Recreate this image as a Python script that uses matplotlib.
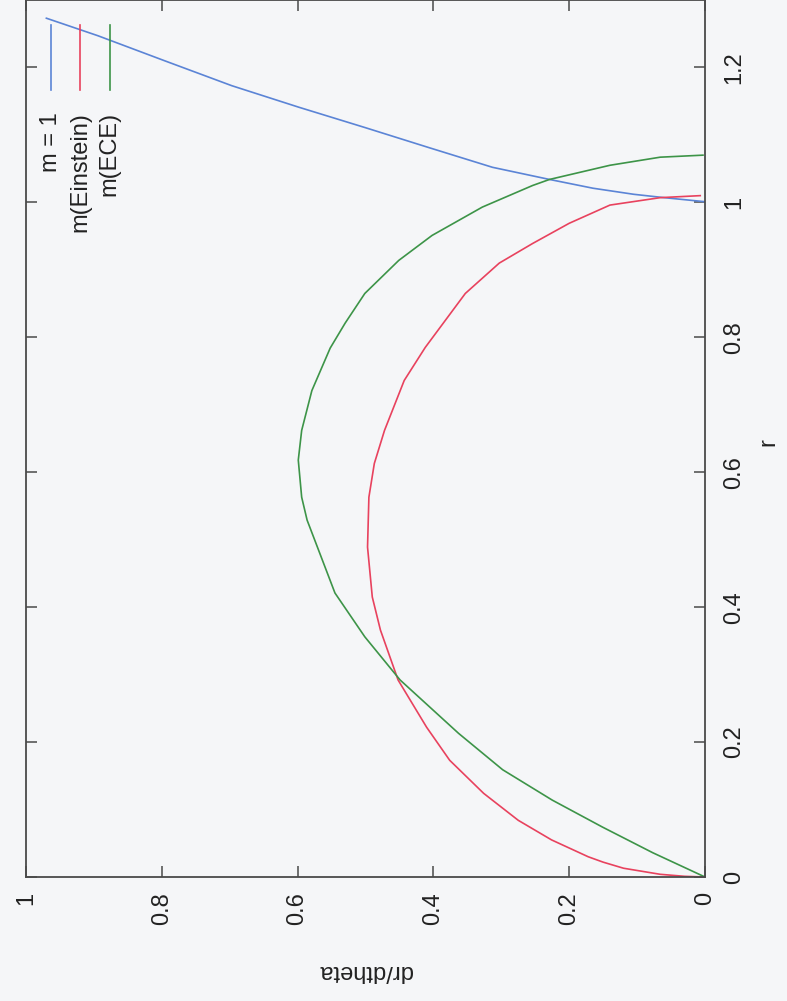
import matplotlib
matplotlib.use('Agg')
from matplotlib import pyplot as plt

# values (r along the page height, dr/dtheta across)
r_m1 = [1.001, 1.004, 1.007, 1.012, 1.021, 1.034, 1.052, 1.081, 1.111, 1.141, 1.173, 1.210, 1.247, 1.273]
m_m1 = [0.0, 0.030, 0.060, 0.105, 0.165, 0.229, 0.313, 0.406, 0.501, 0.598, 0.697, 0.796, 0.894, 0.970]

r_ein = [0.0, 0.001, 0.004, 0.013, 0.022, 0.030, 0.055, 0.084, 0.124, 0.173, 0.222, 0.292,
         0.366, 0.415, 0.489, 0.563, 0.613, 0.662, 0.736, 0.785, 0.865, 0.910, 0.939, 0.969,
         0.996, 1.007, 1.010]
m_ein = [0.0, 0.030, 0.066, 0.120, 0.150, 0.172, 0.226, 0.275, 0.326, 0.376, 0.410, 0.452,
         0.478, 0.490, 0.497, 0.495, 0.487, 0.472, 0.443, 0.412, 0.353, 0.303, 0.254, 0.200,
         0.140, 0.066, 0.007]

r_ece = [0.0, 0.036, 0.074, 0.114, 0.159, 0.213, 0.292, 0.356, 0.421, 0.529, 0.563, 0.618,
         0.662, 0.721, 0.784, 0.821, 0.865, 0.914, 0.951, 0.993, 1.025, 1.034, 1.055, 1.067, 1.070]
m_ece = [0.0, 0.077, 0.151, 0.225, 0.298, 0.363, 0.449, 0.501, 0.545, 0.586, 0.594, 0.599,
         0.594, 0.579, 0.552, 0.530, 0.501, 0.451, 0.402, 0.328, 0.254, 0.229, 0.140, 0.066, 0.003]

labels = ['m = 1', 'm(Einstein)', 'm(ECE)']
colors = ['#5b84d6', '#e8425e', '#3d9448']

r_ticks = [0, 0.2, 0.4, 0.6, 0.8, 1, 1.2]
m_ticks = [0, 0.2, 0.4, 0.6, 0.8, 1]

plt.rcParams['font.family'] = ['Liberation Sans', 'DejaVu Sans']
bg = '#f5f6f8'
frame = '#4a4a4a'
txt = '#222222'

fig = plt.figure(figsize=(7.87, 10.01), dpi=100, facecolor=bg)
ax = fig.add_axes([26 / 787, 1 - 877 / 1001, 679 / 787, 877 / 1001], facecolor=bg)

ax.plot(m_m1, r_m1, color=colors[0], lw=1.2)
ax.plot(m_ein, r_ein, color=colors[1], lw=1.2)
ax.plot(m_ece, r_ece, color=colors[2], lw=1.2)

ax.set_xlim(1, 0)
ax.set_ylim(0, 1.3)

ax.set_xticks(m_ticks)
ax.set_xticklabels([f'{v:g}' for v in m_ticks], rotation=90, fontsize=17)
ax.set_yticks(r_ticks)
ax.set_yticklabels([f'{v:g}' for v in r_ticks], rotation=90, fontsize=17, va='center')
ax.yaxis.tick_right()
ax.tick_params(axis='both', direction='in', length=8, width=1.1, color=frame,
               top=True, left=True, labelcolor=txt)
ax.tick_params(axis='x', pad=11)
ax.tick_params(axis='y', pad=13)
for s in ax.spines.values():
    s.set_color(frame)
    s.set_linewidth(1.3)

ax.set_xlabel('dr/dtheta', rotation=180, fontsize=17, color=txt, va='center')
ax.xaxis.set_label_coords(0.5, -0.107)
ax.yaxis.set_label_position('right')
ax.set_ylabel('r', rotation=90, fontsize=17, color=txt, va='center', ha='center')
ax.yaxis.set_label_coords(1.094, 0.496)

# legend drawn by hand, turned with the page
leg_x = [0.037, 0.080, 0.123]
for lab, c, x in zip(labels, colors, leg_x):
    ax.plot([x, x], [0.897, 0.971], color=c, lw=1.2, transform=ax.transAxes)
    ax.text(x, 0.872, lab, rotation=90, ha='center', va='top', fontsize=17,
            color=txt, transform=ax.transAxes)

fig.savefig('out.png', dpi=100, facecolor=bg)
